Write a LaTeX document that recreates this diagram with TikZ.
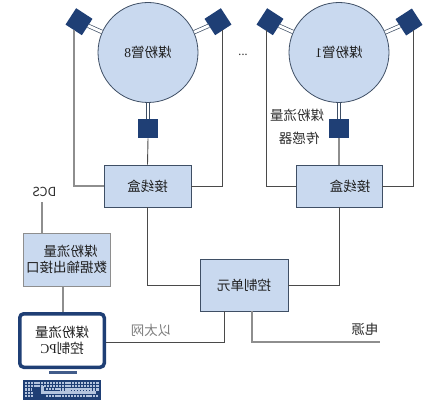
\documentclass[tikz,border=0pt]{standalone}
\usepackage{fontspec}
\setmainfont{Noto Sans CJK SC}
\newfontfamily\ser{Liberation Serif}
\definecolor{fillblue}{HTML}{C9D9EF}
\definecolor{edgeblue}{HTML}{3F4F65}
\definecolor{navy}{HTML}{1F3F75}
\definecolor{wiregray}{HTML}{8E8E8E}
\definecolor{wiredark}{HTML}{4A4A4A}
\definecolor{keycol}{HTML}{B4C4DE}
\newcommand{\mr}[1]{\reflectbox{#1}}
\tikzset{
  x=1pt,y=-1pt,
  every node/.style={font=\fontsize{13.5pt}{16pt}\selectfont,text=black!88,inner sep=0pt},
  pipe/.style={circle,draw=edgeblue,fill=fillblue,line width=.8pt,minimum size=100pt},
  boxy/.style={rectangle,draw=edgeblue,fill=fillblue,line width=.9pt,align=center},
  sensor/.style={rectangle,fill=navy,minimum size=19.5pt},
  tube/.style={double=white,draw=edgeblue,double distance=2.8pt,line width=.7pt},
  wire/.style={draw=wiredark,line width=.9pt},
  wireg/.style={draw=wiregray,line width=1.2pt},
  plain/.style={text=black!82}
}
\begin{document}
\begin{tikzpicture}
\useasboundingbox (0,0) rectangle (435,403);
% pipes
\node[pipe] (p8) at (148,52.5) {\mr{煤粉管{\ser 8}}};
\node[pipe] (p1) at (339,52.5) {\mr{煤粉管{\ser 1}}};
% sensors
\node[sensor,rotate=-33] (s8l) at (79,21.7) {};
\node[sensor,rotate=33] (s8r) at (218,21.7) {};
\node[sensor] (s8b) at (148,128.5) {};
\node[sensor,rotate=-33] (s1l) at (270,21.7) {};
\node[sensor,rotate=33] (s1r) at (409,22) {};
\node[sensor] (s1b) at (339,128.5) {};
% boxes
\node[boxy,minimum width=87pt,minimum height=42pt] (j8) at (147.5,186) {\mr{接线盒}};
\node[boxy,minimum width=86pt,minimum height=42pt] (j1) at (339,186) {\hspace*{22pt}\mr{接线盒}};
\node[boxy,minimum width=88pt,minimum height=52pt] (cu) at (244,285) {\mr{控制单元}};
\node[boxy,minimum width=87pt,minimum height=53pt,draw=wiregray,line width=1pt] (io) at (66.5,259.5) {\hspace*{8pt}\mr{煤粉流量}\\\mr{数据输出接口}};
% monitor
\node[boxy,fill=white,draw=navy,line width=3.5pt,rounded corners=4pt,minimum width=84.5pt,minimum height=53.5pt] (pc) at (62,340.5) {\mr{煤粉流量}\\\mr{控制{\ser PC}}};
\node[rectangle,fill=navy!85,minimum width=28pt,minimum height=3.5pt] (st) at (62.5,372.7) {};
\node[rectangle,fill=navy,minimum width=78pt,minimum height=20pt] (kb) at (62,390) {};
% keyboard keys
\foreach \r in {0,1,2}{
  \foreach \c in {0,...,23}{
    \fill[keycol] (25+\c*3.1,382+\r*3.2) rectangle ++(2.2,2.2);
  }
}
\fill[navy] (32,388) rectangle (60,398);
\foreach \c in {0,...,2}{\fill[keycol] (25+\c*3.1,391.6) rectangle ++(2.2,2.2);\fill[keycol] (25+\c*3.1,395) rectangle ++(2.2,2.2);}
\fill[keycol] (41,386) rectangle (44,394);
\fill[keycol] (41,391.4) rectangle (96,394);
\foreach \c in {0,...,16}{\fill[keycol] (46+\c*3.1,388.2) rectangle ++(2.2,2.2);\fill[keycol] (46+\c*3.1,395) rectangle ++(2.2,2.2);}
% tubes
\draw[tube] (p8) -- (s8l);
\draw[tube] (p8) -- (s8r);
\draw[tube] (p8) -- (s8b);
\draw[tube] (p1) -- (s1l);
\draw[tube] (p1) -- (s1r);
\draw[tube] (p1) -- (s1b);
% free ends
\coordinate (w8l) at (74,30);
\coordinate (w8r) at (222,30);
\coordinate (w1l) at (266,30);
\coordinate (w1r) at (413,30);
\coordinate (dcsend) at (42,202);
\coordinate (pwrend) at (380,342);
\coordinate (cuA) at (224,311);
\coordinate (cuB) at (252,311);
% wires
\draw[wireg] (w8l) -- (74,186) -- (j8.west |- 0,186);
\draw[wire] (w8r) -- (222,186) -- (j8.east |- 0,186);
\draw[wire] (w1l) -- (266,186) -- (j1.west |- 0,186);
\draw[wire] (w1r) -- (413,186) -- (j1.east |- 0,186);
\draw[wire] (s8b.south) -- (j8.north);
\draw[wireg] (s1b.south) -- (j1.north);
\draw[wire] (j8.south) |- (cu.west);
\draw[wire] (j1.south) |- (cu.east);
\draw[wireg] (io.north -| dcsend) -- (dcsend);
\draw[wireg] (io.south -| 0,0) ++(63,0) -- (63,312);
\draw[wire] (cuA) -- (224,342) -- (pc.east |- 0,342);
\draw[wireg] (cuB) -- (252,342) -- (pwrend);
% labels
\node[plain] (lab1) at (297,115) {\mr{煤粉流量}};
\node[plain] (lab2) at (299,138.5) {\mr{传感器}};
\node[plain,text=black!50] (eth) at (151,330) {\mr{以太网}};
\node[plain] (pwr) at (365,329) {\mr{电源}};
\node[plain,font=\fontsize{12.5pt}{14pt}\selectfont] (dcs) at (44.5,191.5) {\mr{DCS}};
\node[plain,font=\fontsize{11pt}{12pt}\selectfont] (dots) at (243,55) {\mr{...}};
\end{tikzpicture}
\end{document}
